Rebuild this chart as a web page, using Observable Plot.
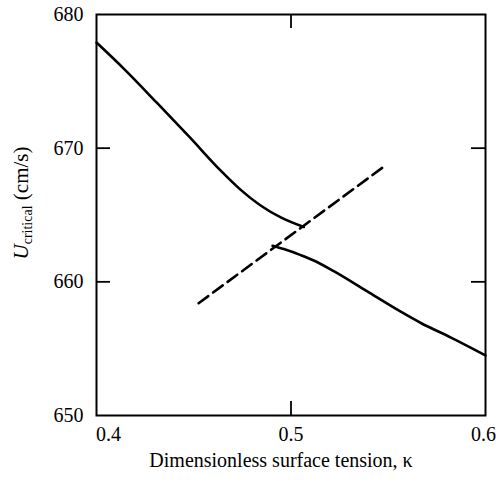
<!DOCTYPE html>
<html><head><meta charset="utf-8">
<script src="https://cdn.jsdelivr.net/npm/d3@7"></script>
<script src="https://cdn.jsdelivr.net/npm/@observablehq/plot@0.6"></script>
<style>body{margin:0;background:#fff}svg{font-family:"Liberation Serif",serif}</style>
</head><body><div id="chart"></div>
<script>
const upperKappa = [0.400, 0.414, 0.431, 0.448, 0.464, 0.474, 0.484, 0.495, 0.5066];
const upperU     = [677.9, 675.95, 673.4, 670.8, 668.3, 666.9, 665.75, 664.8, 664.1];
const lowerKappa = [0.4905, 0.4963, 0.505, 0.5117, 0.522, 0.539, 0.556, 0.567, 0.582, 0.600];
const lowerU     = [662.7, 662.45, 662.0, 661.6, 660.8, 659.3, 657.8, 656.9, 655.85, 654.5];
const dashKappa = [0.4525, 0.5485];
const dashU     = [658.4, 668.7];
const xTicks = [0.4, 0.5, 0.6];
const yTicks = [650, 660, 670, 680];
const yInnerTicks = [660, 670];
const xInnerTicks = [0.5];
const xLabel = "Dimensionless surface tension, κ";

const upper = upperKappa.map((k, i) => ({k, u: upperU[i]}));
const lower = lowerKappa.map((k, i) => ({k, u: lowerU[i]}));
const dash = dashKappa.map((k, i) => ({k, u: dashU[i]}));

const W = 496, H = 482, mL = 96, mR = 11, mT = 14, mB = 67;
const fw = W - mL - mR, fh = H - mT - mB;
const fmt = d => d.toFixed(1);
const xAxisOpts = {tickSize: 0, tickPadding: 11, fontSize: 20, tickFormat: fmt, label: null};

const chart = Plot.plot({
  width: W, height: H,
  marginLeft: mL, marginRight: mR, marginTop: mT, marginBottom: mB,
  style: {fontFamily: '"Liberation Serif", serif', color: "#000", background: "#fff"},
  x: {domain: [0.4, 0.6]},
  y: {domain: [650, 680]},
  marks: [
    Plot.axisX([xTicks[0]], {...xAxisOpts, dx: 12}),
    Plot.axisX([xTicks[1]], xAxisOpts),
    Plot.axisX([xTicks[2]], {...xAxisOpts, dx: -2}),
    Plot.axisY(yTicks, {tickSize: 0, tickPadding: 13, fontSize: 20, label: null}),
    Plot.tickY(yInnerTicks, {y: d => d, insetRight: fw - 14, strokeWidth: 1.8}),
    Plot.tickY(yInnerTicks, {y: d => d, insetLeft: fw - 14, strokeWidth: 1.8}),
    Plot.tickX(xInnerTicks, {x: d => d, insetBottom: fh - 14, strokeWidth: 1.8}),
    Plot.tickX(xInnerTicks, {x: d => d, insetTop: fh - 14, strokeWidth: 1.8}),
    Plot.frame({stroke: "#000", strokeWidth: 2}),
    Plot.line(upper, {x: "k", y: "u", stroke: "#000", strokeWidth: 2.6, curve: "monotone-x"}),
    Plot.line(lower, {x: "k", y: "u", stroke: "#000", strokeWidth: 2.6, curve: "monotone-x"}),
    Plot.line(dash, {x: "k", y: "u", stroke: "#000", strokeWidth: 2.6, strokeDasharray: "12,6"}),
    Plot.text([xLabel], {frameAnchor: "bottom", dy: 51, dx: -10, fontSize: 20, fill: "#000"})
  ]
});

const svg = d3.select(chart);
const t = svg.append("text")
  .attr("transform", "translate(28,203) rotate(-90)")
  .attr("text-anchor", "middle")
  .attr("font-family", '"Liberation Serif", serif')
  .attr("font-size", 21)
  .attr("fill", "#000");
t.append("tspan").attr("font-style", "italic").text("U");
t.append("tspan").attr("font-size", 14).attr("dy", 4).text("critical");
t.append("tspan").attr("dy", -4).text(" (cm/s)");

document.getElementById("chart").appendChild(chart);
</script>
</body></html>
